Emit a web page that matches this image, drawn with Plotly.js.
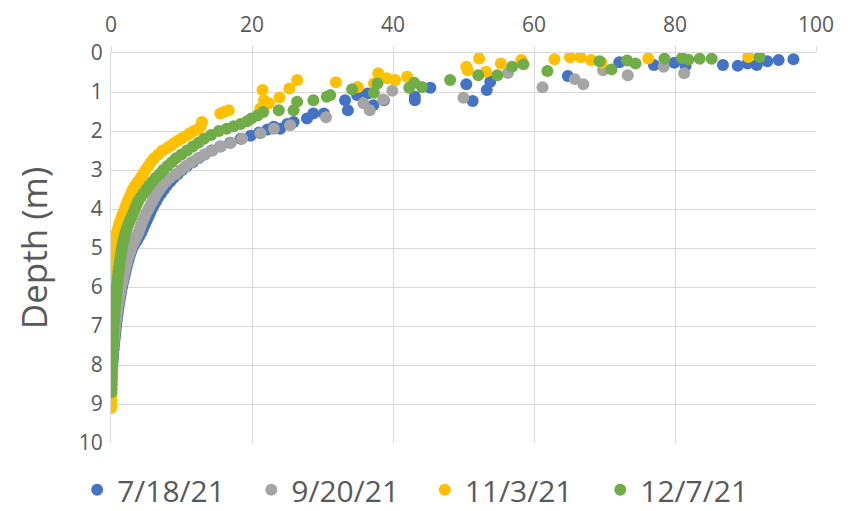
<!DOCTYPE html>
<html>
<head>
<meta charset="utf-8">
<script src="https://cdn.plot.ly/plotly-3.0.1.min.js"></script>
<style>
  html, body { margin: 0; padding: 0; background: #ffffff; }
  #chart { width: 851px; height: 511px; }
</style>
</head>
<body>
<div id="chart"></div>
<script>
// Depth profiles: each series pairs a depth (m) with the measured value at that depth.
const seriesNames = ["7/18/21", "9/20/21", "11/3/21", "12/7/21"];
const seriesColors = ["#4472C4", "#A5A5A5", "#FFC000", "#70AD47"];

const depth0718 = [8.6,8.5,8.4,8.3,8.2,8.1,8.0,7.9,7.8,7.7,7.6,7.5,7.4,7.3,7.2,7.1,7.0,6.9,6.8,6.7,6.6,6.5,6.4,6.3,6.2,6.1,6.0,5.9,5.8,5.7,5.6,5.5,5.4,5.3,5.2,5.1,5.0,4.9,4.8,4.7,4.6,4.5,4.4,4.3,4.2,4.1,4.0,3.9,3.8,3.7,3.6,3.5,3.4,3.3,3.2,3.1,3.0,2.9,2.8,2.7,2.6,2.5,2.4,2.3,2.2,2.12,2.04,1.96,1.89,1.94,1.82,1.77,1.68,1.55,1.55,1.21,1.47,1.08,1.04,1.34,1.21,1.12,1.21,0.89,0.80,1.23,0.95,0.74,0.59,0.24,0.31,0.25,0.33,0.31,0.33,0.27,0.31,0.21,0.18,0.16];
const value0718 = [0.04,0.06,0.08,0.1,0.13,0.16,0.2,0.24,0.28,0.32,0.37,0.42,0.48,0.54,0.6,0.66,0.72,0.78,0.85,0.92,1.0,1.08,1.17,1.26,1.36,1.46,1.57,1.68,1.8,1.93,2.06,2.2,2.35,2.5,2.66,2.83,3.05,3.35,3.7,4.0,4.3,4.55,4.8,5.05,5.3,5.55,5.8,6.1,6.4,6.7,7.1,7.5,7.9,8.4,8.9,9.5,10.1,10.8,11.6,12.4,13.3,14.3,15.5,16.9,18.4,19.8,21.0,22.2,23.1,24.0,25.0,25.9,27.8,28.7,30.2,33.2,33.6,34.9,36.4,37.2,38.7,43.1,43.1,45.3,50.4,51.3,53.3,53.8,64.8,72.1,77.0,79.9,81.5,86.8,88.9,90.3,91.6,93.1,94.7,96.8];

const depth0920 = [8.5,8.4,8.3,8.2,8.1,8.0,7.9,7.8,7.7,7.6,7.5,7.4,7.3,7.2,7.1,7.0,6.9,6.8,6.7,6.6,6.5,6.4,6.3,6.2,6.1,6.0,5.9,5.8,5.7,5.6,5.5,5.4,5.3,5.2,5.1,5.0,4.9,4.8,4.7,4.6,4.5,4.4,4.3,4.2,4.1,4.0,3.9,3.8,3.7,3.6,3.5,3.4,3.3,3.2,3.1,3.0,2.9,2.8,2.7,2.6,2.5,2.4,2.3,2.2,2.06,1.94,1.85,1.65,1.29,1.47,1.19,0.97,1.15,0.51,0.88,0.67,0.80,0.44,0.57,0.35,0.52];
const value0920 = [0.04,0.06,0.08,0.1,0.12,0.15,0.18,0.21,0.25,0.29,0.33,0.38,0.43,0.48,0.54,0.6,0.66,0.73,0.8,0.88,0.96,1.05,1.14,1.24,1.34,1.45,1.56,1.68,1.8,1.93,2.06,2.2,2.35,2.52,2.7,2.9,3.15,3.4,3.65,3.9,4.1,4.3,4.5,4.75,5.0,5.3,5.6,5.9,6.2,6.5,6.9,7.3,7.8,8.4,9.2,9.9,10.6,11.4,12.3,13.3,14.4,15.6,17.0,18.6,21.2,23.1,25.4,30.5,35.8,36.7,38.6,39.9,50.0,56.3,61.2,65.8,67.0,69.8,73.3,78.4,81.3];

const depth1103 = [9.1,9.0,8.9,8.8,8.7,8.6,8.5,8.4,8.3,8.2,8.1,8.0,7.9,7.8,7.7,7.6,7.5,7.4,7.3,7.2,7.1,7.0,6.9,6.8,6.7,6.6,6.5,6.4,6.3,6.2,6.1,6.0,5.9,5.8,5.7,5.6,5.5,5.4,5.3,5.2,5.1,5.0,4.9,4.8,4.7,4.6,4.5,4.4,4.3,4.2,4.1,4.0,3.9,3.8,3.7,3.6,3.5,3.4,3.3,3.2,3.1,3.0,2.9,2.8,2.7,2.6,2.5,2.43,2.37,2.3,2.24,2.18,2.12,2.06,2.0,1.94,1.89,1.77,1.55,1.51,1.47,1.42,1.21,0.95,1.29,1.14,0.91,0.69,0.75,0.87,0.52,0.78,0.65,0.69,0.61,0.35,0.44,0.14,0.48,0.27,0.18,0.16,0.11,0.11,0.18,0.25,0.14,0.10];
const value1103 = [0.02,0.03,0.04,0.05,0.06,0.07,0.08,0.09,0.1,0.1,0.11,0.12,0.13,0.13,0.14,0.15,0.15,0.16,0.17,0.18,0.18,0.19,0.2,0.21,0.22,0.23,0.24,0.25,0.26,0.27,0.28,0.3,0.32,0.34,0.36,0.38,0.4,0.43,0.46,0.5,0.54,0.58,0.63,0.68,0.75,0.85,1.0,1.15,1.32,1.52,1.75,1.95,2.15,2.35,2.6,2.85,3.1,3.4,3.8,4.2,4.55,4.9,5.3,5.65,6.1,6.7,7.3,8.0,8.5,9.0,9.6,10.1,10.7,11.2,11.8,12.4,12.7,12.9,15.5,16.0,16.7,21.2,21.7,21.5,22.4,23.9,25.3,26.4,31.9,35.0,37.9,37.3,39.1,40.3,42.0,50.4,50.6,52.2,53.2,55.3,58.2,62.9,65.1,66.6,68.1,69.6,76.2,90.4];

const depth1207 = [8.7,8.6,8.5,8.4,8.3,8.2,8.1,8.0,7.9,7.8,7.7,7.6,7.5,7.4,7.3,7.2,7.1,7.0,6.9,6.8,6.7,6.6,6.5,6.4,6.3,6.2,6.1,6.0,5.9,5.8,5.7,5.6,5.5,5.4,5.3,5.2,5.1,5.0,4.9,4.8,4.7,4.6,4.5,4.4,4.3,4.2,4.1,4.0,3.9,3.8,3.7,3.6,3.5,3.4,3.3,3.2,3.1,3.0,2.9,2.8,2.7,2.6,2.5,2.4,2.3,2.2,2.1,2.0,1.94,1.88,1.82,1.75,1.68,1.6,1.51,1.47,1.47,1.25,1.21,1.12,1.08,0.93,1.02,0.78,0.89,0.76,0.87,0.69,0.57,0.57,0.35,0.29,0.46,0.21,0.42,0.19,0.27,0.15,0.13,0.17,0.15,0.15,0.10];
const value1207 = [0.05,0.06,0.07,0.08,0.09,0.1,0.12,0.14,0.16,0.18,0.2,0.22,0.24,0.26,0.28,0.31,0.34,0.37,0.4,0.44,0.48,0.52,0.57,0.62,0.67,0.72,0.78,0.84,0.9,0.96,1.02,1.08,1.15,1.22,1.3,1.38,1.47,1.56,1.66,1.78,1.92,2.08,2.25,2.45,2.68,2.92,3.15,3.4,3.62,3.85,4.2,4.6,5.0,5.4,5.85,6.35,6.9,7.4,8.0,8.6,9.2,10.0,10.8,11.6,12.4,13.2,14.2,15.3,16.4,17.4,18.4,19.3,19.9,20.8,21.6,23.8,25.9,26.4,28.7,30.6,31.1,34.2,37.3,37.8,42.3,43.0,44.1,48.1,52.1,54.8,56.9,58.5,61.9,69.3,71.0,73.2,74.4,78.5,81.0,81.9,83.5,85.2,92.0];

const xTickVals = [0, 20, 40, 60, 80, 100];
const yTickVals = [0, 1, 2, 3, 4, 5, 6, 7, 8, 9, 10];

const depths = [depth0718, depth0920, depth1103, depth1207];
const values = [value0718, value0920, value1103, value1207];

const textColor = "#595959";
const gridColor = "#d9d9d9";
const fontFamily = "'Open Sans', 'DejaVu Sans', sans-serif";

// One single-entry legend per series, laid out in a row under the plot.
const legendIds = ["legend", "legend2", "legend3", "legend4"];
const legendX = [-0.048, 0.199, 0.445, 0.694];

const traces = seriesNames.map((name, i) => ({
  type: "scatter",
  mode: "markers",
  name: name,
  legend: legendIds[i],
  x: values[i],
  y: depths[i],
  marker: { color: seriesColors[i], size: 12, line: { width: 0 } },
  hoverinfo: "x+y+name"
}));

const layout = {
  width: 851,
  height: 511,
  margin: { l: 111, r: 35, t: 53, b: 68, autoexpand: false },
  paper_bgcolor: "#ffffff",
  plot_bgcolor: "#ffffff",
  font: { family: fontFamily, color: textColor },
  showlegend: true,
  xaxis: {
    side: "top",
    range: [0, 100],
    tickvals: xTickVals,
    ticktext: xTickVals.map(String),
    showgrid: true,
    gridcolor: gridColor,
    gridwidth: 1,
    showline: true,
    linecolor: gridColor,
    linewidth: 1,
    zeroline: false,
    ticks: "outside",
    ticklen: 6,
    tickcolor: gridColor,
    tickfont: { family: fontFamily, size: 21, color: textColor },
    ticklabelstandoff: 6,
    fixedrange: true
  },
  yaxis: {
    range: [10, 0],
    tickvals: yTickVals,
    ticktext: yTickVals.map(String),
    showgrid: true,
    gridcolor: gridColor,
    gridwidth: 1,
    showline: true,
    linecolor: gridColor,
    linewidth: 1,
    zeroline: false,
    ticks: "",
    tickfont: { family: fontFamily, size: 21, color: textColor },
    ticklabelstandoff: 3,
    title: {
      text: "Depth (m)",
      font: { family: fontFamily, size: 35, color: textColor },
      standoff: 20
    },
    fixedrange: true
  }
};

legendIds.forEach((id, i) => {
  layout[id] = {
    orientation: "h",
    x: legendX[i],
    xanchor: "left",
    y: -0.12,
    yanchor: "middle",
    font: { family: fontFamily, size: 30, color: textColor },
    bgcolor: "rgba(0,0,0,0)",
    itemclick: false,
    itemdoubleclick: false
  };
});

Plotly.newPlot("chart", traces, layout, { displayModeBar: false, staticPlot: true });
</script>
</body>
</html>
